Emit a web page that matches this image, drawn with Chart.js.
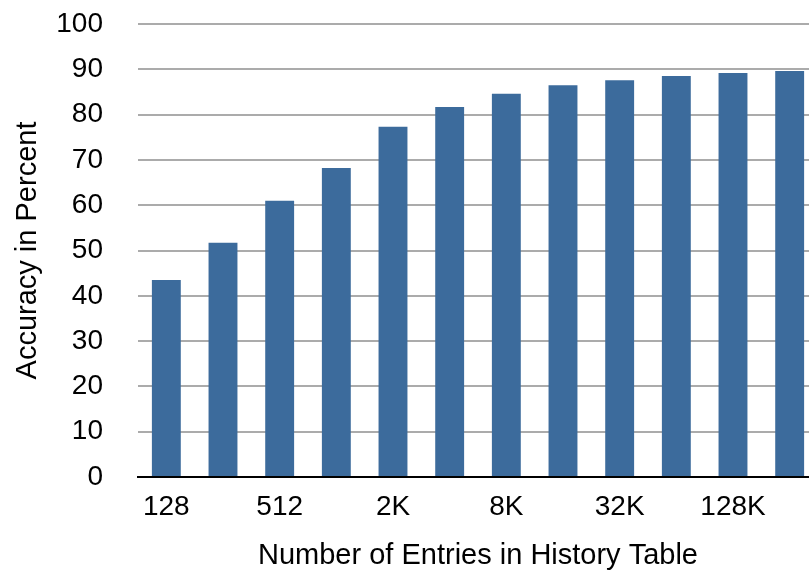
<!DOCTYPE html>
<html>
<head>
<meta charset="utf-8">
<script src="https://cdn.jsdelivr.net/npm/chart.js@4"></script>
<style>
  html, body { margin: 0; padding: 0; background: #fff; overflow: hidden; }
  #wrap { position: relative; width: 818px; height: 573px; }
</style>
</head>
<body>
<div id="wrap"><canvas id="accChart"></canvas></div>
<script>
// history table sizes and the prediction accuracy for each
const tableSizes = ['128', '256', '512', '1K', '2K', '4K', '8K', '16K', '32K', '64K', '128K', '256K'];
const accuracy = [43.5, 51.7, 61.0, 68.2, 77.3, 81.7, 84.6, 86.5, 87.6, 88.5, 89.2, 89.6];
const yTicks = [0, 10, 20, 30, 40, 50, 60, 70, 80, 90, 100];

const FONT = "'Liberation Sans', Arial, Helvetica, sans-serif";
const PLOT_LEFT = 138;
const PLOT_TOP = 24;
const PLOT_BOTTOM = 477;

const ctx = document.getElementById('accChart').getContext('2d');
new Chart(ctx, {
    type: 'bar',
    data: {
        labels: tableSizes,
        datasets: [{
            data: accuracy,
            backgroundColor: '#3c6b9c',
            borderWidth: 0,
            barPercentage: 0.51,
            categoryPercentage: 1
        }]
    },
    options: {
        responsive: true,
        maintainAspectRatio: false,
        animation: false,
        layout: { padding: { left: 0, right: 0, top: PLOT_TOP, bottom: 0 } },
        plugins: { legend: { display: false }, tooltip: { enabled: false } },
        scales: {
            x: {
                grid: { display: false, drawTicks: false },
                border: { display: true, color: '#000', width: 2 },
                ticks: {
                    color: '#000',
                    font: { family: FONT, size: 28 },
                    padding: 13,
                    autoSkip: false,
                    maxRotation: 0,
                    // only every other size gets a label
                    callback: (v, i) => i % 2 === 0 ? tableSizes[i] : ''
                },
                title: {
                    display: true,
                    text: 'Number of Entries in History Table',
                    color: '#000',
                    font: { family: FONT, size: 29 },
                    padding: { top: 0, bottom: 0 }
                },
                afterFit: s => { s.height = 573 - PLOT_BOTTOM; s.paddingLeft = 0; s.paddingRight = 0; }
            },
            y: {
                min: 0,
                max: 100,
                afterBuildTicks: s => { s.ticks = yTicks.map(v => ({ value: v })); },
                grid: {
                    drawTicks: false,
                    lineWidth: 2,
                    color: c => c.tick && c.tick.value === 0 ? 'rgba(0,0,0,0)' : '#ababab'
                },
                border: { display: false },
                ticks: {
                    color: '#000',
                    font: { family: FONT, size: 28 },
                    padding: 35
                },
                title: {
                    display: true,
                    text: 'Accuracy in Percent',
                    color: '#000',
                    font: { family: FONT, size: 29 },
                    padding: { top: 11, bottom: 0 }
                },
                afterFit: s => { s.width = PLOT_LEFT; s.paddingTop = 0; s.paddingBottom = 0; }
            }
        }
    }
});
</script>
</body>
</html>
